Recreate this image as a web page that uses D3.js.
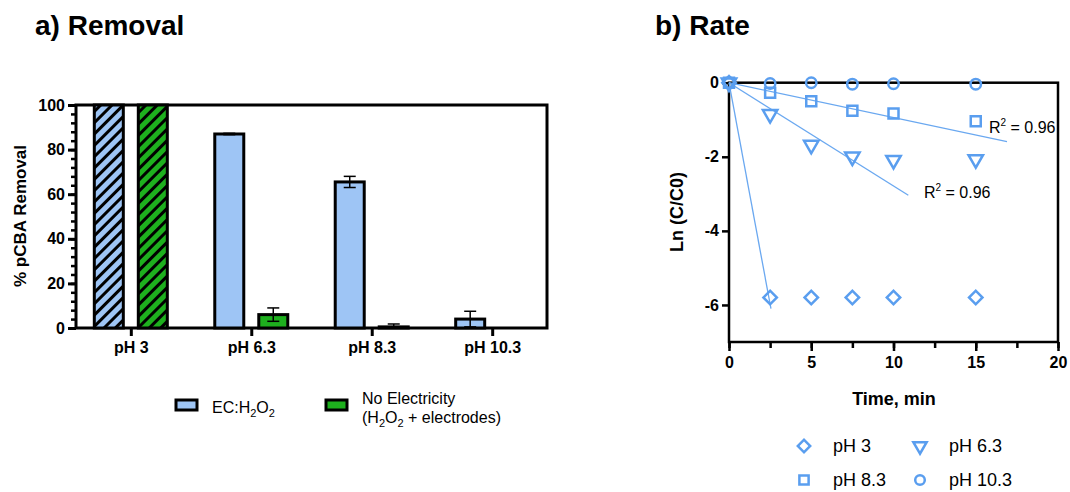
<!DOCTYPE html>
<html>
<head>
<meta charset="utf-8">
<script src="https://cdn.jsdelivr.net/npm/d3@7"></script>
<style>
  body { margin: 0; background: #fff; }
  svg { font-family: "Liberation Sans", Arial, sans-serif; }
</style>
</head>
<body>
<svg id="chart" width="1070" height="492"></svg>
<script>
// ---------- data ----------
const categories = ["pH 3", "pH 6.3", "pH 8.3", "pH 10.3"];
const ecValues = [100, 87, 65.5, 4];
const ecErrors = [0, 0.3, 2.5, 3.5];
const noElecValues = [100, 6, 0.5, 0];
const noElecErrors = [0, 3, 1.3, 0];
const hatched = [true, false, false, false];

const times = [0, 2.5, 5, 7.5, 10, 15];
const ph3 = [0, -5.8, -5.8, -5.8, -5.8, -5.8];
const ph63 = [0, -0.85, -1.68, -2.0, -2.09, -2.07];
const ph83 = [0, -0.27, -0.5, -0.76, -0.83, -1.04];
const ph103 = [0, -0.02, 0, -0.04, -0.03, -0.04];
// fitted line end points [time, ln]
const fit3 = [[0, 0], [2.55, -6.1]];
const fit63 = [[0, 0], [10.9, -3.04]];
const fit83 = [[0, 0], [16.9, -1.59]];

const blue = "#9ec5f5";
const green = "#1eb01e";
const markBlue = "#5a9eef";
const font = "Liberation Sans, Arial, sans-serif";

const svg = d3.select("#chart");

// hatch patterns
const defs = svg.append("defs");
[["hatch-blue", blue], ["hatch-green", green]].forEach(([id, c]) => {
  const p = defs.append("pattern")
    .attr("id", id)
    .attr("patternUnits", "userSpaceOnUse")
    .attr("width", 8).attr("height", 8)
    .attr("patternTransform", "rotate(45)");
  p.append("rect").attr("width", 8).attr("height", 8).attr("fill", c);
  p.append("rect").attr("x", 0).attr("width", 3).attr("height", 8).attr("fill", "#000");
});

function styleTicks(g, size) {
  g.attr("font-size", null).attr("font-family", null);
  g.selectAll("text").attr("font-size", size).attr("font-weight", "bold")
    .attr("font-family", font).attr("fill", "#000");
}

// ---------- a) Removal ----------
svg.append("text").attr("x", 35).attr("y", 35)
  .attr("font-size", 28).attr("font-weight", "bold").text("a) Removal");

const ax = d3.scalePoint().domain(categories).range([76, 547]).padding(0.455);
const ay = d3.scaleLinear().domain([0, 100]).range([328, 105]);

const left = svg.append("g");

// frame
left.append("rect")
  .attr("x", 76).attr("y", 105).attr("width", 547 - 76).attr("height", 328 - 105)
  .attr("fill", "none").attr("stroke", "#000").attr("stroke-width", 3);

// minor y ticks
left.append("g")
  .attr("transform", "translate(76,0)")
  .call(d3.axisLeft(ay).tickValues(d3.range(0, 101, 4)).tickSize(5).tickFormat(""))
  .call(g => g.select(".domain").remove())
  .call(g => g.selectAll("line").attr("stroke-width", 2.5));

left.append("g")
  .attr("transform", "translate(76,0)")
  .call(d3.axisLeft(ay).tickValues([0, 20, 40, 60, 80, 100]).tickSize(8).tickPadding(3))
  .call(g => g.select(".domain").remove())
  .call(g => g.selectAll("line").attr("stroke-width", 3))
  .call(g => styleTicks(g, 16));

left.append("g")
  .attr("transform", "translate(0,328)")
  .call(d3.axisBottom(ax).tickSize(8).tickPadding(6))
  .call(g => g.select(".domain").remove())
  .call(g => g.selectAll("line").attr("stroke-width", 3))
  .call(g => styleTicks(g, 16));

left.append("text")
  .attr("transform", "translate(26,216) rotate(-90)")
  .attr("text-anchor", "middle").attr("font-size", 17).attr("font-weight", "bold")
  .text("% pCBA Removal");

const barW = 29;
const groups = [
  { values: ecValues, errors: ecErrors, color: blue, hatch: "url(#hatch-blue)", dx: -22 },
  { values: noElecValues, errors: noElecErrors, color: green, hatch: "url(#hatch-green)", dx: 22 }
];

groups.forEach(gr => {
  categories.forEach((c, i) => {
    const cx = ax(c) + gr.dx;
    const v = gr.values[i];
    const e = gr.errors[i];
    if (e > 0) {
      const g = left.append("g").attr("stroke", "#000").attr("stroke-width", 1.5);
      g.append("line").attr("x1", cx).attr("x2", cx)
        .attr("y1", ay(Math.max(v - e, 0))).attr("y2", ay(v + e));
      g.append("line").attr("x1", cx - 6).attr("x2", cx + 6).attr("y1", ay(v + e)).attr("y2", ay(v + e));
    }
    left.append("rect")
      .attr("x", cx - barW / 2).attr("y", ay(v))
      .attr("width", barW).attr("height", ay(0) - ay(v))
      .attr("fill", hatched[i] ? gr.hatch : gr.color)
      .attr("stroke", "#000").attr("stroke-width", 3);
    if (e > 0 && v - e > 0) {
      left.append("line").attr("x1", cx).attr("x2", cx)
        .attr("y1", ay(v)).attr("y2", ay(v - e)).attr("stroke", "#000").attr("stroke-width", 1.5);
      left.append("line").attr("x1", cx - 6).attr("x2", cx + 6)
        .attr("y1", ay(v - e)).attr("y2", ay(v - e)).attr("stroke", "#000").attr("stroke-width", 1.5);
    }
  });
});

// legend a
const legA = svg.append("g").attr("font-size", 16);
legA.append("rect").attr("x", 176).attr("y", 400).attr("width", 21).attr("height", 10)
  .attr("fill", blue).attr("stroke", "#000").attr("stroke-width", 3);
const t1 = legA.append("text").attr("x", 212).attr("y", 413);
t1.append("tspan").text("EC:H");
t1.append("tspan").attr("font-size", 11).attr("dy", 4).text("2");
t1.append("tspan").attr("dy", -4).text("O");
t1.append("tspan").attr("font-size", 11).attr("dy", 4).text("2");

legA.append("rect").attr("x", 326).attr("y", 400).attr("width", 21).attr("height", 10)
  .attr("fill", green).attr("stroke", "#000").attr("stroke-width", 3);
legA.append("text").attr("x", 362).attr("y", 404).text("No Electricity");
const t2 = legA.append("text").attr("x", 362).attr("y", 423);
t2.append("tspan").text("(H");
t2.append("tspan").attr("font-size", 11).attr("dy", 4).text("2");
t2.append("tspan").attr("dy", -4).text("O");
t2.append("tspan").attr("font-size", 11).attr("dy", 4).text("2");
t2.append("tspan").attr("dy", -4).text(" + electrodes)");

// ---------- b) Rate ----------
svg.append("text").attr("x", 655).attr("y", 35)
  .attr("font-size", 28).attr("font-weight", "bold").text("b) Rate");

const bx = d3.scaleLinear().domain([0, 20]).range([729, 1058]);
const by = d3.scaleLinear().domain([-7, 0]).range([342, 82.7]);

const right = svg.append("g");

right.append("rect")
  .attr("x", 729).attr("y", by(0)).attr("width", 1058 - 729).attr("height", by(-7) - by(0))
  .attr("fill", "none").attr("stroke", "#000").attr("stroke-width", 2.5);

right.append("g")
  .attr("transform", "translate(0,342)")
  .call(d3.axisBottom(bx).tickValues(d3.range(0, 21, 2.5)).tickSize(6).tickFormat(""))
  .call(g => g.select(".domain").remove())
  .call(g => g.selectAll("line").attr("stroke-width", 2.5));

right.append("g")
  .attr("transform", "translate(0,342)")
  .call(d3.axisBottom(bx).tickValues([0, 5, 10, 15, 20]).tickSize(9).tickPadding(6))
  .call(g => g.select(".domain").remove())
  .call(g => g.selectAll("line").attr("stroke-width", 2.5))
  .call(g => styleTicks(g, 16));

right.append("g")
  .attr("transform", "translate(729,0)")
  .call(d3.axisLeft(by).tickValues([0, -2, -4, -6]).tickSize(7).tickPadding(3)
    .tickFormat(d => String(d)))
  .call(g => g.select(".domain").remove())
  .call(g => g.selectAll("line").attr("stroke-width", 2.5))
  .call(g => styleTicks(g, 16));

right.append("text")
  .attr("transform", "translate(683,212) rotate(-90)")
  .attr("text-anchor", "middle").attr("font-size", 18).attr("font-weight", "bold")
  .text("Ln (C/C0)");

right.append("text").attr("x", 894).attr("y", 405)
  .attr("text-anchor", "middle").attr("font-size", 18).attr("font-weight", "bold")
  .text("Time, min");

// fit lines
const fitLine = d3.line().x(d => bx(d[0])).y(d => by(d[1]));
[fit3, fit63, fit83].forEach(f => {
  right.append("path").attr("d", fitLine(f))
    .attr("fill", "none").attr("stroke", "#6aa8f0").attr("stroke-width", 1.3);
});

const series = [
  { name: "pH 3", vals: ph3, sym: d3.symbolSquare, size: 90, rot: 45 },
  { name: "pH 6.3", vals: ph63, sym: d3.symbolTriangle, size: 90, rot: 180 },
  { name: "pH 8.3", vals: ph83, sym: d3.symbolSquare, size: 100, rot: 0 },
  { name: "pH 10.3", vals: ph103, sym: d3.symbolCircle, size: 85, rot: 0 }
];

function drawSym(g, s, x, y) {
  g.append("path")
    .attr("d", d3.symbol().type(s.sym).size(s.size)())
    .attr("transform", `translate(${x},${y}) rotate(${s.rot})`)
    .attr("fill", "none").attr("stroke", markBlue).attr("stroke-width", 2.5);
}

series.forEach(s => {
  times.forEach((t, i) => drawSym(right, s, bx(t), by(s.vals[i])));
});

// R² labels
[[989, 133], [924, 198]].forEach(([x, y]) => {
  const t = right.append("text").attr("x", x).attr("y", y).attr("font-size", 16);
  t.append("tspan").text("R");
  t.append("tspan").attr("font-size", 10).attr("dy", -7).text("2");
  t.append("tspan").attr("dy", 7).text(" = 0.96");
});

// legend b
const legB = svg.append("g").attr("font-size", 18);
const legPos = [[804, 446], [920, 446], [804, 480], [920, 480]];
series.forEach((s, i) => {
  const [x, y] = legPos[i];
  drawSym(legB, { ...s, size: s.size * 0.85 }, x, y);
  legB.append("text").attr("x", x + 29).attr("y", y + 6).text(s.name);
});
</script>
</body>
</html>
